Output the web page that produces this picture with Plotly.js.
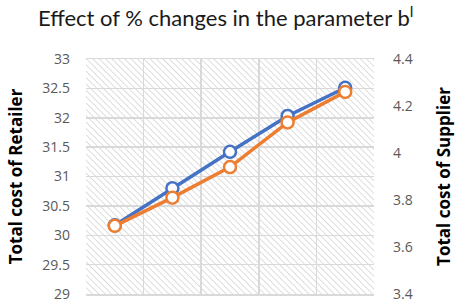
<!DOCTYPE html>
<html>
<head>
<meta charset="utf-8">
<script src="https://cdn.plot.ly/plotly-3.0.1.min.js"></script>
<style>html,body{margin:0;padding:0;background:#fff;}#chart{width:459px;height:304px;}</style>
</head>
<body>
<div id="chart"></div>
<script>
var categories = [1, 2, 3, 4, 5];
var retailerCost = [30.17, 30.8, 31.42, 32.03, 32.51];
var supplierCost = [3.69, 3.81, 3.94, 4.13, 4.26];
var leftTicks = [29, 29.5, 30, 30.5, 31, 31.5, 32, 32.5, 33];
var rightTicks = [3.4, 3.6, 3.8, 4, 4.2, 4.4];

var W = 288, H = 235;
var svg = '<svg xmlns="http://www.w3.org/2000/svg" width="' + W + '" height="' + H + '">' +
  '<defs><pattern id="p" width="4.5" height="4.5" patternUnits="userSpaceOnUse" patternTransform="rotate(-45)">' +
  '<line x1="0" y1="0" x2="0" y2="4.5" stroke="#d6d6d6" stroke-width="1.6"/></pattern></defs>' +
  '<rect width="' + W + '" height="' + H + '" fill="#fff"/>' +
  '<rect width="' + W + '" height="' + H + '" fill="url(#p)"/></svg>';
var bgImg = 'data:image/svg+xml;charset=utf-8,' + encodeURIComponent(svg);

var titleFont = "Lato, 'Open Sans', sans-serif";
var font = "'Open Sans', Lato, sans-serif";

var traces = [
  {
    x: categories, y: retailerCost, type: 'scatter', mode: 'lines+markers', yaxis: 'y',
    line: {color: '#4472c4', width: 3.5},
    marker: {symbol: 'circle', size: 12, color: '#ffffff', line: {color: '#4472c4', width: 2.5}},
    showlegend: false, hoverinfo: 'skip'
  },
  {
    x: categories, y: supplierCost, type: 'scatter', mode: 'lines+markers', yaxis: 'y2',
    line: {color: '#ed7d31', width: 3.5},
    marker: {symbol: 'circle', size: 12, color: '#ffffff', line: {color: '#ed7d31', width: 2.5}},
    showlegend: false, hoverinfo: 'skip'
  }
];

var layout = {
  width: 459, height: 304,
  margin: {l: 86, r: 85, t: 59, b: 10},
  paper_bgcolor: '#ffffff',
  plot_bgcolor: 'rgba(0,0,0,0)',
  font: {family: font, color: '#595959'},
  title: {
    text: 'Effect of % changes in the parameter b<sup>l</sup>',
    font: {family: titleFont, size: 22, color: '#1a1a1a'},
    x: 0.485, xanchor: 'center', xref: 'paper', y: 0.94, yanchor: 'middle'
  },
  xaxis: {
    range: [0.5, 5.5], tick0: 0.5, dtick: 1, showticklabels: false,
    showgrid: true, gridcolor: '#d9d9d9', gridwidth: 1.5,
    zeroline: false, showline: true, linecolor: '#d9d9d9', linewidth: 1.5, mirror: true,
    ticks: '', fixedrange: true
  },
  yaxis: {
    range: [29, 33], tickvals: leftTicks, ticktext: leftTicks.map(String),
    showgrid: true, gridcolor: '#d9d9d9', gridwidth: 1.5, zeroline: false,
    showline: false, ticks: '', ticklabelstandoff: 15,
    tickfont: {family: font, size: 14, color: '#595959'},
    title: {text: 'Total cost of Retailer', font: {family: font, size: 17, color: '#000000', weight: 'bold'}, standoff: 15},
    automargin: false
  },
  yaxis2: {
    range: [3.4, 4.4], tickvals: rightTicks, ticktext: rightTicks.map(String),
    overlaying: 'y', side: 'right', showgrid: false, zeroline: false, showline: false,
    ticks: '', ticklabelstandoff: 18,
    tickfont: {family: font, size: 14, color: '#595959'},
    title: {text: 'Total cost of Supplier', font: {family: font, size: 17, color: '#000000', weight: 'bold'}, standoff: 26},
    automargin: false
  },
  images: [{
    source: bgImg, xref: 'paper', yref: 'paper', x: 0, y: 1, sizex: 1, sizey: 1,
    xanchor: 'left', yanchor: 'top', sizing: 'stretch', layer: 'below'
  }]
};

Plotly.newPlot('chart', traces, layout, {displayModeBar: false, staticPlot: true});
</script>
</body>
</html>
